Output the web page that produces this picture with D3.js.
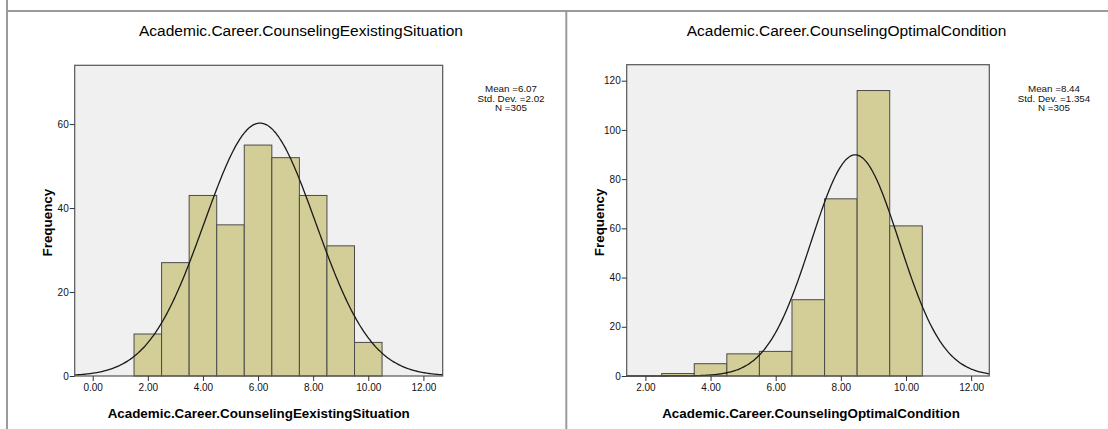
<!DOCTYPE html>
<html><head><meta charset="utf-8">
<script src="https://cdn.jsdelivr.net/npm/d3@7/dist/d3.min.js"></script>
<style>
html,body{margin:0;padding:0;background:#fff;}
svg{display:block;font-family:"Liberation Sans",Arial,sans-serif;}
</style></head><body>
<svg id="c" width="1108" height="429"></svg>
<script>
// ---- data ----
const binStartsLeft = [1.5, 2.5, 3.5, 4.5, 5.5, 6.5, 7.5, 8.5, 9.5];
const countsLeft    = [10, 27, 43, 36, 55, 52, 43, 31, 8];
const binStartsRight = [2.5, 3.5, 4.5, 5.5, 6.5, 7.5, 8.5, 9.5];
const countsRight    = [1, 5, 9, 10, 31, 72, 116, 61];
const statsLeft  = {mean: 6.07, sd: 2.02, n: 305, label: ["Mean =6.07", "Std. Dev. =2.02", "N =305"]};
const statsRight = {mean: 8.44, sd: 1.354, n: 305, label: ["Mean =8.44", "Std. Dev. =1.354", "N =305"]};
const xTicks = [0, 2, 4, 6, 8, 10, 12];
const xTicksRight = [2, 4, 6, 8, 10, 12];
const yTicksLeft = [0, 20, 40, 60];
const yTicksRight = [0, 20, 40, 60, 80, 100, 120];
const titleLeft = "Academic.Career.CounselingEexistingSituation";
const titleRight = "Academic.Career.CounselingOptimalCondition";

const svg = d3.select("#c");

// page frame lines
svg.append("line").attr("x1",7).attr("x2",7).attr("y1",0).attr("y2",429).attr("stroke","#9a9a9a").attr("stroke-width",2);
svg.append("line").attr("x1",7).attr("x2",1108).attr("y1",11).attr("y2",11).attr("stroke","#9a9a9a").attr("stroke-width",2);
svg.append("line").attr("x1",566.3).attr("x2",566.3).attr("y1",11).attr("y2",429).attr("stroke","#9a9a9a").attr("stroke-width",2);

function panel(o){
  const x = d3.scaleLinear().domain(o.xDomain).range([o.left, o.right]);
  const y = d3.scaleLinear().domain(o.yDomain).range([o.bottom, o.top]);
  const g = svg.append("g");
  g.append("rect").attr("x",o.left).attr("y",o.top).attr("width",o.right-o.left).attr("height",o.bottom-o.top)
    .attr("fill","#f0f0f0");
  g.selectAll("rect.bar").data(o.starts).enter().append("rect").attr("class","bar")
    .attr("x",d=>x(d)).attr("width",d=>x(d+1)-x(d))
    .attr("y",(d,i)=>y(o.counts[i])).attr("height",(d,i)=>y(0)-y(o.counts[i]))
    .attr("fill","#d3ce97").attr("stroke","#4a4a4a").attr("stroke-width",1);
  const s = o.stats;
  const pts = d3.range(0, 301).map(i => {
    const xv = o.xDomain[0] + (o.xDomain[1]-o.xDomain[0]) * i/300;
    const yv = s.n / (s.sd*Math.sqrt(2*Math.PI)) * Math.exp(-0.5*Math.pow((xv-s.mean)/s.sd,2));
    return [xv, yv];
  });
  g.append("path").datum(pts).attr("d", d3.line().x(d=>x(d[0])).y(d=>y(d[1])).curve(d3.curveBasis))
    .attr("fill","none").attr("stroke","#1a1a1a").attr("stroke-width",1.3);
  g.append("rect").attr("x",o.left).attr("y",o.top).attr("width",o.right-o.left).attr("height",o.bottom-o.top)
    .attr("fill","none").attr("stroke","#555").attr("stroke-width",1.2);
  const xa = g.append("g").attr("transform",`translate(0,${o.bottom})`)
    .call(d3.axisBottom(x).tickValues(o.xTicks).tickFormat(d3.format(".2f")).tickSize(5).tickPadding(3));
  const ya = g.append("g").attr("transform",`translate(${o.left},0)`)
    .call(d3.axisLeft(y).tickValues(o.yTicks).tickFormat(d3.format("d")).tickSize(5).tickPadding(1));
  [xa, ya].forEach(a => {
    a.select(".domain").remove();
    a.selectAll(".tick line").attr("stroke","#333");
    a.selectAll(".tick text").attr("fill","#111").style("font-size","10px").style("font-family","'Liberation Sans',Arial,sans-serif");
  });
  g.append("text").attr("x",o.titleX).attr("y",36).attr("text-anchor","middle")
    .style("font-size","15.5px").attr("fill","#000").text(o.title);
  g.append("text").attr("x",(o.left+o.right)/2 + o.xlabShift).attr("y",418).attr("text-anchor","middle")
    .style("font-size","13.4px").style("font-weight","bold").attr("fill","#000").text(o.title);
  g.append("text").attr("transform",`translate(${o.left-22.5},${(o.top+o.bottom)/2+2}) rotate(-90)`).attr("text-anchor","middle")
    .style("font-size","13.4px").style("font-weight","bold").attr("fill","#000").text("Frequency");
  s.label.forEach((t,i)=>{
    g.append("text").attr("x",o.legX).attr("y",92+i*9.6).attr("text-anchor","middle")
      .style("font-size","9.8px").attr("fill","#111").text(t);
  });
}

panel({left:74.7, right:442.7, top:65.3, bottom:376, xDomain:[-0.653,12.70], yDomain:[0,74.0],
  starts:binStartsLeft, counts:countsLeft, stats:statsLeft, xTicks:xTicks, yTicks:yTicksLeft,
  title:titleLeft, titleX:301, xlabShift:0, legX:511});
panel({left:626.7, right:989.3, top:64.7, bottom:376, xDomain:[1.426,12.557], yDomain:[0,126.5],
  starts:binStartsRight, counts:countsRight, stats:statsRight, xTicks:xTicksRight, yTicks:yTicksRight,
  title:titleRight, titleX:846.5, xlabShift:3, legX:1054});
</script></body></html>
